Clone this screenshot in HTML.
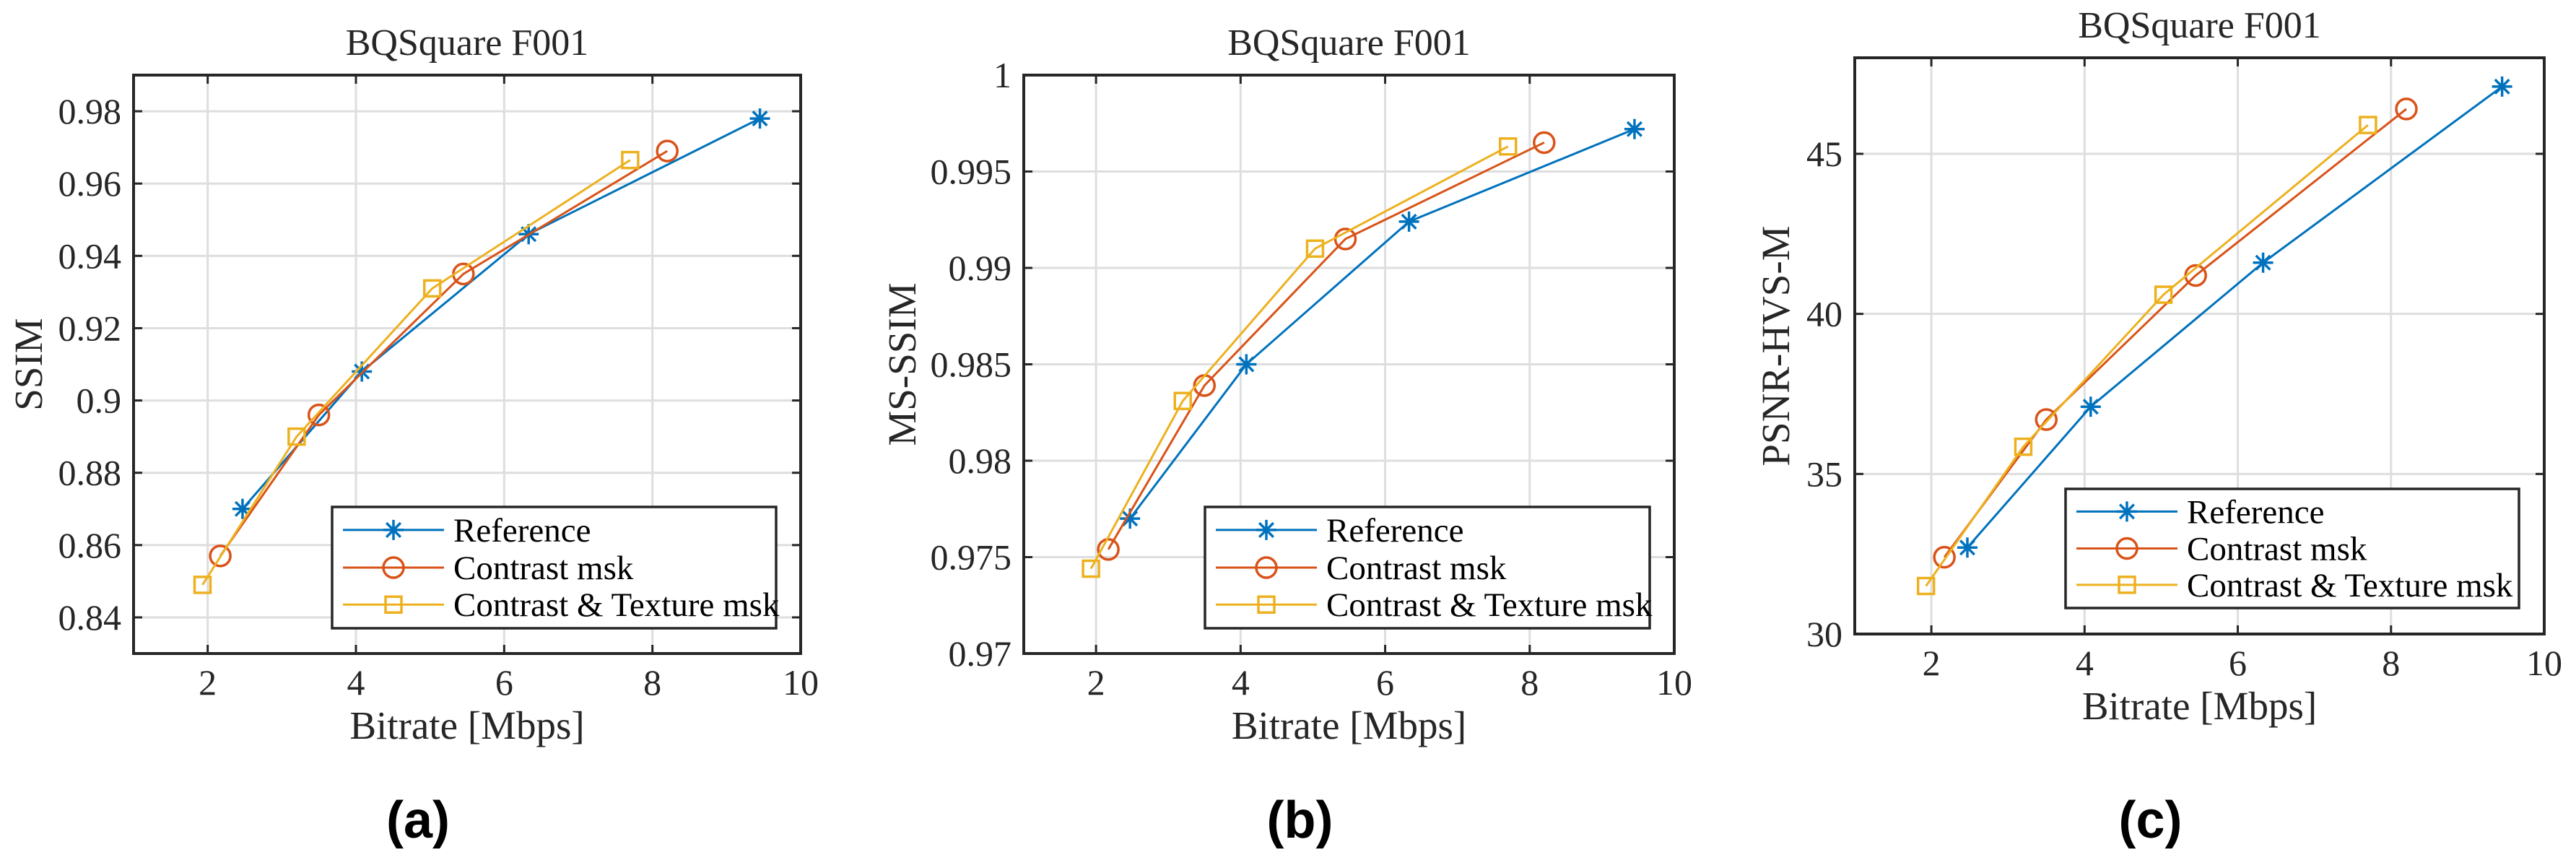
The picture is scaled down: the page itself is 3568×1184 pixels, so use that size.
<!DOCTYPE html>
<html><head><meta charset="utf-8"><style>
html,body{margin:0;padding:0;background:#fff;}
svg text{font-family:"Liberation Serif","DejaVu Serif",serif;}
svg text.cap{font-family:"Liberation Sans","DejaVu Sans",sans-serif;}
</style></head><body>
<svg id="fig" width="3568" height="1179" viewBox="0 0 3568 1179" xmlns="http://www.w3.org/2000/svg"></svg>
<script>
const seriesNames = ["Reference","Contrast msk","Contrast & Texture msk"];
const refX = [2.47,4.08,6.33,9.45];
const conX = [2.17,3.5,5.45,8.2];
const ctX = [1.93,3.2,5.03,7.7];
const ssimRef = [0.870,0.908,0.946,0.978];
const ssimCon = [0.857,0.896,0.935,0.969];
const ssimCT = [0.849,0.890,0.931,0.9665];
const msRef = [0.9770,0.9850,0.9924,0.9972];
const msCon = [0.9754,0.9839,0.9915,0.9965];
const msCT = [0.9744,0.9831,0.9910,0.9963];
const psRef = [32.7,37.1,41.6,47.1];
const psCon = [32.4,36.7,41.2,46.4];
const psCT = [31.5,35.85,40.6,45.9];
const xTicks = [2,4,6,8,10];
const ssimTicks = [0.84,0.86,0.88,0.9,0.92,0.94,0.96,0.98];
const ssimLabels = ["0.84","0.86","0.88","0.9","0.92","0.94","0.96","0.98"];
const msTicks = [0.97,0.975,0.98,0.985,0.99,0.995,1];
const msLabels = ["0.97","0.975","0.98","0.985","0.99","0.995","1"];
const psTicks = [30,35,40,45];
const psLabels = ["30","35","40","45"];

const NS="http://www.w3.org/2000/svg";
const svg=document.getElementById('fig');
const colors=["#0072BD","#D95319","#EDB120"];
const SERIF='"Liberation Serif", "DejaVu Serif", serif';
function el(tag,attrs,parent,txt){const e=document.createElementNS(NS,tag);for(const k in attrs)e.setAttribute(k,attrs[k]);if(tag==='text'&&!attrs['font-family'])e.setAttribute('font-family',SERIF);if(txt!==undefined)e.textContent=txt;(parent||svg).appendChild(e);return e;}

function marker(g,type,cx,cy,c){
  if(type===0){
    const s=14;
    el('path',{d:`M${cx-s} ${cy}H${cx+s}M${cx} ${cy-s}V${cy+s}M${cx-s*0.7} ${cy-s*0.7}L${cx+s*0.7} ${cy+s*0.7}M${cx-s*0.7} ${cy+s*0.7}L${cx+s*0.7} ${cy-s*0.7}`,stroke:c,'stroke-width':3.5,fill:'none'},g);
  } else if(type===1){
    el('circle',{cx:cx,cy:cy,r:14,stroke:c,'stroke-width':3.5,fill:'none'},g);
  } else {
    el('rect',{x:cx-11,y:cy-11,width:22,height:22,stroke:c,'stroke-width':3.5,fill:'none'},g);
  }
}

function panel(p){
  const g=el('g',{});
  
  
  const X=v=>p.x0+(v-1)/9*(p.x1-p.x0);
  const Y=v=>p.y1-(v-p.ymin)/(p.ymax-p.ymin)*(p.y1-p.y0);
  xTicks.forEach(t=>{const gl=el('line',{x1:X(t),x2:X(t),y1:p.y0,y2:p.y1,stroke:'#dedede','stroke-width':3},g);
    });
  p.ticks.forEach(t=>{el('line',{x1:p.x0,x2:p.x1,y1:Y(t),y2:Y(t),stroke:'#dedede','stroke-width':3},g);});
  xTicks.forEach(t=>{el('line',{x1:X(t),x2:X(t),y1:p.y1,y2:p.y1-12,stroke:'#262626','stroke-width':3},g);
    el('line',{x1:X(t),x2:X(t),y1:p.y0,y2:p.y0+12,stroke:'#262626','stroke-width':3},g);
    const tl=el('text',{x:X(t),y:p.y1+57,'font-size':50,'text-anchor':'middle',fill:'#262626'},g,String(t));
    });
  p.ticks.forEach((t,i)=>{el('line',{x1:p.x0,x2:p.x0+12,y1:Y(t),y2:Y(t),stroke:'#262626','stroke-width':3},g);
    el('line',{x1:p.x1,x2:p.x1-12,y1:Y(t),y2:Y(t),stroke:'#262626','stroke-width':3},g);
    const tl=el('text',{x:p.x0-17,y:Y(t)+17,'font-size':50,'text-anchor':'end',fill:'#262626'},g,p.labels[i]);
    });
  const xs=[refX,conX,ctX];
  p.ys.forEach((ys,si)=>{
    const sg=el('g',{},g);
    
    
    el('polyline',{points:ys.map((v,i)=>X(xs[si][i])+','+Y(v)).join(' '),fill:'none',stroke:colors[si],'stroke-width':3},sg);
    ys.forEach((v,i)=>marker(sg,si,X(xs[si][i]),Y(v),colors[si]));
  });
  const bx=el('rect',{x:p.x0,y:p.y0,width:p.x1-p.x0,height:p.y1-p.y0,fill:'none',stroke:'#262626','stroke-width':4},g);
  
  const tt=el('text',{x:(p.x0+p.x1)/2,y:p.y0-28,'font-size':52,'text-anchor':'middle',fill:'#262626'},g,'BQSquare F001');
  
  const xl=el('text',{x:(p.x0+p.x1)/2,y:p.y1+118,'font-size':55,'text-anchor':'middle',fill:'#262626'},g,'Bitrate [Mbps]');
  
  const yc=(p.y0+p.y1)/2;
  const yl=el('text',{x:p.ylx,y:yc,'font-size':55,'text-anchor':'middle',fill:'#262626',transform:`rotate(-90 ${p.ylx} ${yc})`},g,p.ylabel);
  
  const lg=el('g',{},g);
  
  el('rect',{x:p.lx,y:p.ly,width:p.lw,height:p.lh,fill:'#fff',stroke:'#262626','stroke-width':3.5},lg);
  const rows=[0.19,0.5,0.805];
  seriesNames.forEach((n,i)=>{
    const ry=p.ly+rows[i]*p.lh;
    const le=el('g',{},lg);
    
    el('line',{x1:p.lx+15,x2:p.lx+155,y1:ry,y2:ry,stroke:colors[i],'stroke-width':3},le);
    marker(le,i,p.lx+85,ry,colors[i]);
    el('text',{x:p.lx+168,y:ry+16,'font-size':47,fill:'#000'},le,n);
  });
  const cap=el('text',{x:(p.x0+p.x1)/2-68,y:1160,'font-size':72,'font-weight':'bold','font-family':'"Liberation Sans", "DejaVu Sans", sans-serif','text-anchor':'middle',fill:'#000',class:'cap'},g,p.cap);
  
}

panel({name:'ssim-chart',x0:185,x1:1109,y0:104,y1:905,ymin:0.83,ymax:0.99,ticks:ssimTicks,labels:ssimLabels,ys:[ssimRef,ssimCon,ssimCT],ylabel:'SSIM',ylx:58,lx:460,ly:702,lw:615,lh:168,cap:'(a)'});
panel({name:'ms-ssim-chart',x0:1418,x1:2319,y0:104,y1:905,ymin:0.97,ymax:1.0,ticks:msTicks,labels:msLabels,ys:[msRef,msCon,msCT],ylabel:'MS-SSIM',ylx:1268,lx:1669,ly:702,lw:616,lh:168,cap:'(b)'});
panel({name:'psnr-hvs-m-chart',x0:2569,x1:3524,y0:80,y1:878,ymin:30,ymax:48,ticks:psTicks,labels:psLabels,ys:[psRef,psCon,psCT],ylabel:'PSNR-HVS-M',ylx:2478,lx:2861,ly:677,lw:628,lh:165,cap:'(c)'});
</script>
</body></html>
